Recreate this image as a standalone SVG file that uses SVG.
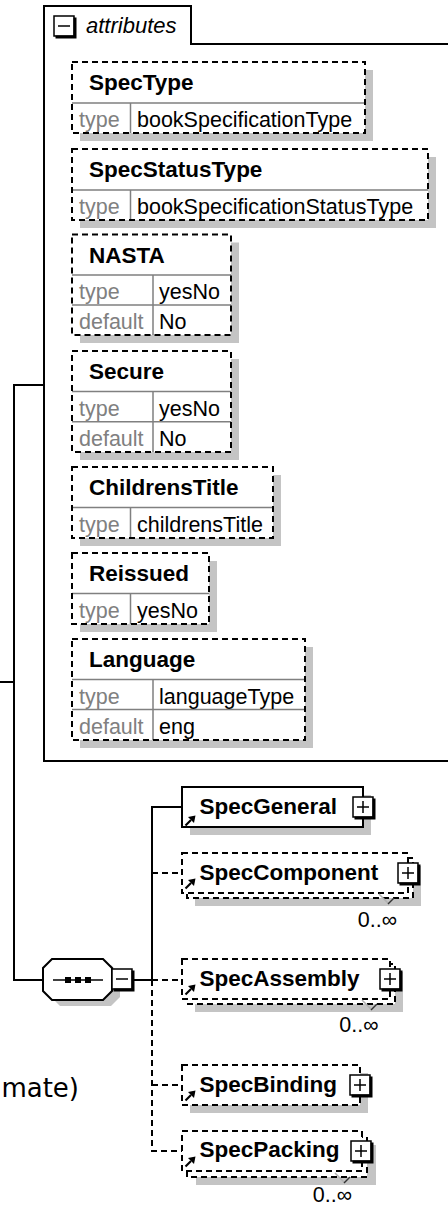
<svg xmlns="http://www.w3.org/2000/svg" xmlns:xlink="http://www.w3.org/1999/xlink" width="448" height="1207" viewBox="0 0 448 1207">
<style>
text{font-family:"Liberation Sans",Arial,sans-serif;}
.ttl{font-size:22.5px;font-weight:bold;fill:#000;}
.lbl{font-size:21.5px;fill:#808080;}
.val{font-size:21.5px;fill:#000;}
.card{font-size:21.5px;fill:#000;}
.shd{fill:#c4c4c4;stroke:none;}
.abox{fill:#fff;stroke:#000;stroke-width:2;stroke-dasharray:6 4;}
.aboxo{fill:none;stroke:#000;stroke-width:2;stroke-dasharray:6 4;}
.div{stroke:#808080;stroke-width:1.5;fill:none;}
.ebox{fill:#fff;stroke:#000;stroke-width:2;}
.dbox{fill:#fff;stroke:#000;stroke-width:2;stroke-dasharray:6 4;}
.ln{stroke:#000;stroke-width:2;fill:none;}
.dln{stroke:#000;stroke-width:2;fill:none;stroke-dasharray:6 4;}
</style>
<defs>
<g id="plus">
<rect x="0" y="0" width="20" height="20" fill="#fff" stroke="#000" stroke-width="1.5"/>
<path d="M21,1.5 V21 H1.5" stroke="#000" stroke-width="3" fill="none"/>
<path d="M4,10 H16 M10,4 V16" stroke="#000" stroke-width="1.5" fill="none"/>
</g>
<g id="minus">
<rect x="0" y="0" width="20" height="20" fill="#fff" stroke="#000" stroke-width="1.5"/>
<path d="M21,1.5 V21 H1.5" stroke="#000" stroke-width="3" fill="none"/>
<path d="M4,10 H16" stroke="#000" stroke-width="1.5" fill="none"/>
</g>
<g id="arr">
<path d="M2.5,10.5 L8,5" stroke="#000" stroke-width="2.2" fill="none"/>
<path d="M12.5,0.5 L5,2 L11,8 Z" fill="#000"/>
</g>
</defs>

<g id="connectors">
<path class="ln" d="M0,682 H14 M44,385 H14 V980 H43"/>
<path class="ln" d="M134,980 H152 M182,807 H152 V980"/>
<path class="dln" d="M152,980 V1151 H182 M152,873 H182 M152,980 H182 M152,1085 H182"/>
</g>

<g id="attributes">
<path class="ln" d="M448,44 H191 V6 H44 V761 H448"/>
<use xlink:href="#minus" href="#minus" transform="translate(54,16)"/>
<text x="86" y="33" style="font-size:22px;font-style:italic;fill:#000;">attributes</text>
</g>

<g id="attr-SpecType">
<rect class="shd" x="80" y="70" width="293" height="71"/>
<rect x="72" y="62" width="293" height="71" fill="#fff"/>
<path class="div" d="M72,103 H365 M130.5,103 V133"/>
<rect class="aboxo" x="72" y="62" width="293" height="71"/>
<text class="ttl" x="89" y="90">SpecType</text>
<text class="lbl" x="79" y="127">type</text>
<text class="val" x="137" y="127">bookSpecificationType</text>
</g>

<g id="attr-SpecStatusType">
<rect class="shd" x="80" y="157" width="356" height="71"/>
<rect x="72" y="149" width="356" height="71" fill="#fff"/>
<path class="div" d="M72,190 H428 M130.5,190 V220"/>
<rect class="aboxo" x="72" y="149" width="356" height="71"/>
<text class="ttl" x="89" y="177">SpecStatusType</text>
<text class="lbl" x="79" y="214">type</text>
<text class="val" x="137" y="214">bookSpecificationStatusType</text>
</g>

<g id="attr-NASTA">
<rect class="shd" x="80" y="242.5" width="159" height="100.5"/>
<rect x="72" y="234.5" width="159" height="100.5" fill="#fff"/>
<path class="div" d="M72,275 H231 M72,305 H231 M153,275 V335"/>
<rect class="aboxo" x="72" y="234.5" width="159" height="100.5"/>
<text class="ttl" x="89" y="262.5">NASTA</text>
<text class="lbl" x="79" y="299">type</text>
<text class="val" x="159" y="299">yesNo</text>
<text class="lbl" x="79" y="329">default</text>
<text class="val" x="159" y="329">No</text>
</g>

<g id="attr-Secure">
<rect class="shd" x="80" y="359" width="159" height="101"/>
<rect x="72" y="351" width="159" height="101" fill="#fff"/>
<path class="div" d="M72,391.5 H231 M72,421.7 H231 M153,391.5 V452"/>
<rect class="aboxo" x="72" y="351" width="159" height="101"/>
<text class="ttl" x="89" y="379">Secure</text>
<text class="lbl" x="79" y="415.5">type</text>
<text class="val" x="159" y="415.5">yesNo</text>
<text class="lbl" x="79" y="445.7">default</text>
<text class="val" x="159" y="445.7">No</text>
</g>

<g id="attr-ChildrensTitle">
<rect class="shd" x="80" y="475" width="201" height="71"/>
<rect x="72" y="467" width="201" height="71" fill="#fff"/>
<path class="div" d="M72,507.5 H273 M130.5,507.5 V538"/>
<rect class="aboxo" x="72" y="467" width="201" height="71"/>
<text class="ttl" x="89" y="495">ChildrensTitle</text>
<text class="lbl" x="79" y="531.5">type</text>
<text class="val" x="137" y="531.5">childrensTitle</text>
</g>

<g id="attr-Reissued">
<rect class="shd" x="80" y="561" width="137" height="71"/>
<rect x="72" y="553" width="137" height="71" fill="#fff"/>
<path class="div" d="M72,593.5 H209 M130.5,593.5 V624"/>
<rect class="aboxo" x="72" y="553" width="137" height="71"/>
<text class="ttl" x="89" y="581">Reissued</text>
<text class="lbl" x="79" y="617.5">type</text>
<text class="val" x="137" y="617.5">yesNo</text>
</g>

<g id="attr-Language">
<rect class="shd" x="80" y="647" width="233" height="101"/>
<rect x="72" y="639" width="233" height="101" fill="#fff"/>
<path class="div" d="M72,679.5 H305 M72,709.5 H305 M153,679.5 V740"/>
<rect class="aboxo" x="72" y="639" width="233" height="101"/>
<text class="ttl" x="89" y="667">Language</text>
<text class="lbl" x="79" y="703.5">type</text>
<text class="val" x="159" y="703.5">languageType</text>
<text class="lbl" x="79" y="733.5">default</text>
<text class="val" x="159" y="733.5">eng</text>
</g>

<g id="note">
<text x="79" y="1097" text-anchor="end" style="font-family:'DejaVu Sans',Verdana,sans-serif;font-size:26px;fill:#000;">mate)</text>
</g>

<g id="sequence">
<polygon class="shd" points="60,965 111,965 120,974 120,997 111,1006 60,1006 51,997 51,974"/>
<polygon fill="#fff" stroke="#000" stroke-width="2" points="52,959 103,959 112,968 112,991 103,1000 52,1000 43,991 43,968"/>
<path d="M53,980 H103" stroke="#000" stroke-width="1.5"/>
<rect x="65" y="977" width="6" height="6" fill="#000"/>
<rect x="75" y="977" width="6" height="6" fill="#000"/>
<rect x="85" y="977" width="6" height="6" fill="#000"/>
<use xlink:href="#minus" href="#minus" transform="translate(112,969)"/>
</g>

<g id="el-SpecGeneral">
<rect class="shd" x="190" y="795" width="181" height="40"/>
<rect class="ebox" x="182" y="787" width="181" height="40"/>
<text class="ttl" x="199.5" y="814">SpecGeneral</text>
<use xlink:href="#arr" href="#arr" transform="translate(183,815)"/>
<use xlink:href="#plus" href="#plus" transform="translate(353,797)"/>
</g>

<g id="el-SpecComponent">
<rect class="shd" x="195" y="866" width="226" height="40"/>
<rect class="dbox" x="187" y="858" width="226" height="40"/>
<rect class="dbox" x="182" y="853" width="226" height="40"/>
<text class="ttl" x="199.5" y="880">SpecComponent</text>
<use xlink:href="#arr" href="#arr" transform="translate(183,878)"/>
<use xlink:href="#plus" href="#plus" transform="translate(398,863)"/>
<path d="M379,894 L388,903" stroke="#b0b0b0" stroke-width="1.5" fill="none"/>
<path d="M388,904 L394,898" stroke="#333" stroke-width="1.5" fill="none"/>
<text class="card" x="397" y="926.5" text-anchor="end">0..∞</text>
</g>

<g id="el-SpecAssembly">
<rect class="shd" x="195" y="972" width="208" height="40"/>
<rect class="dbox" x="187" y="964" width="208" height="40"/>
<rect class="dbox" x="182" y="959" width="208" height="40"/>
<text class="ttl" x="199.5" y="986">SpecAssembly</text>
<use xlink:href="#arr" href="#arr" transform="translate(183,984)"/>
<use xlink:href="#plus" href="#plus" transform="translate(380,969)"/>
<path d="M362,1000 L371,1009" stroke="#b0b0b0" stroke-width="1.5" fill="none"/>
<path d="M371,1010 L377,1004" stroke="#333" stroke-width="1.5" fill="none"/>
<text class="card" x="378.5" y="1032" text-anchor="end">0..∞</text>
</g>

<g id="el-SpecBinding">
<rect class="shd" x="190" y="1073" width="178" height="40"/>
<rect class="dbox" x="182" y="1065" width="178" height="40"/>
<text class="ttl" x="199.5" y="1092">SpecBinding</text>
<use xlink:href="#arr" href="#arr" transform="translate(183,1090)"/>
<use xlink:href="#plus" href="#plus" transform="translate(350,1075)"/>
</g>

<g id="el-SpecPacking">
<rect class="shd" x="196" y="1145" width="180" height="40"/>
<rect class="dbox" x="187" y="1137" width="180" height="40"/>
<rect class="dbox" x="182" y="1131" width="180" height="40"/>
<text class="ttl" x="199.5" y="1157">SpecPacking</text>
<use xlink:href="#arr" href="#arr" transform="translate(183,1156)"/>
<use xlink:href="#plus" href="#plus" transform="translate(351,1141)"/>
<path d="M335,1173 L344,1182" stroke="#b0b0b0" stroke-width="1.5" fill="none"/>
<path d="M344,1183 L350,1177" stroke="#333" stroke-width="1.5" fill="none"/>
<text class="card" x="352" y="1202" text-anchor="end">0..∞</text>
</g>
</svg>
